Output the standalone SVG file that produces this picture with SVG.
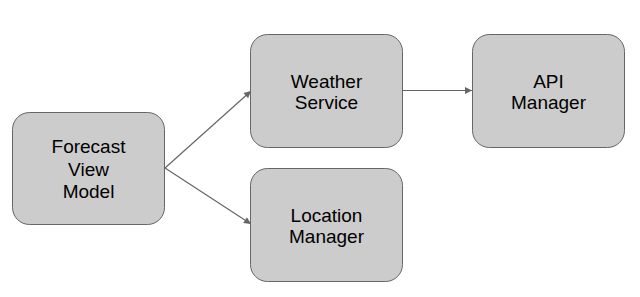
<svg xmlns="http://www.w3.org/2000/svg" width="640" height="297" viewBox="0 0 640 297">
<style>
.box{fill:#cccccc;stroke:#666666;stroke-width:1}
.lbl{font-family:"Liberation Sans",Arial,sans-serif;font-size:19px;fill:#000;text-anchor:middle}
.edge{stroke:#666666;stroke-width:1.2;fill:none;marker-end:url(#ah)}
</style>
<defs>
<marker id="ah" viewBox="0 0 10 10" refX="10" refY="5" markerWidth="9" markerHeight="7" markerUnits="userSpaceOnUse" orient="auto">
<path d="M0,0 L10,5 L0,10 Z" fill="#666666"/>
</marker>
</defs>
<rect width="640" height="297" fill="#ffffff"/>
<g id="connectors">
<line class="edge" x1="165" y1="168" x2="251" y2="91"/>
<line class="edge" x1="165" y1="168" x2="251" y2="224"/>
<line class="edge" x1="403" y1="90.5" x2="472" y2="90.5"/>
</g>
<g id="forecast">
<rect class="box" x="12.5" y="112.5" width="152" height="112" rx="17"/>
<text class="lbl" x="88.5" y="153">Forecast</text>
<text class="lbl" x="88.5" y="175.5">View</text>
<text class="lbl" x="88.5" y="198">Model</text>
</g>
<g id="weather">
<rect class="box" x="250.5" y="34.5" width="152" height="113" rx="17"/>
<text class="lbl" x="326.5" y="88">Weather</text>
<text class="lbl" x="326.5" y="108.5">Service</text>
</g>
<g id="api">
<rect class="box" x="472.5" y="34.5" width="152" height="113" rx="17"/>
<text class="lbl" x="548.5" y="88">API</text>
<text class="lbl" x="548.5" y="108.5">Manager</text>
</g>
<g id="location">
<rect class="box" x="250.5" y="168.5" width="152" height="113" rx="17"/>
<text class="lbl" x="326.5" y="222">Location</text>
<text class="lbl" x="326.5" y="242.5">Manager</text>
</g>
</svg>
